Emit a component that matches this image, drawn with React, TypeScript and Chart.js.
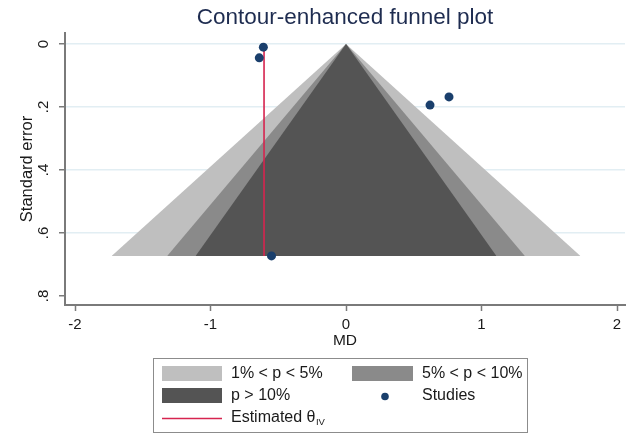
import React, { useEffect, useRef } from "react";
import { Chart, registerables } from "chart.js";

Chart.register(...registerables);

// ---- data ----
const TITLE = "Contour-enhanced funnel plot";
const X_TITLE = "MD";
const Y_TITLE = "Standard error";

const X_TICKS = [-2, -1, 0, 1, 2];
const X_TICK_LABELS = ["-2", "-1", "0", "1", "2"];
const Y_TICKS = [0, 0.2, 0.4, 0.6, 0.8];
const Y_TICK_LABELS = ["0", ".2", ".4", ".6", ".8"];

// studies
const STUDY_MD = [-0.61, -0.64, -0.55, 0.62, 0.76];
const STUDY_SE = [0.01, 0.044, 0.673, 0.194, 0.168];

// estimated theta (IV) and funnel extent
const THETA_IV = -0.605;
const SE_MAX = 0.673;

// contour half-widths at SE_MAX (1%, 5%, 10% boundaries)
const CONTOUR_HALF_WIDTH = [1.73, 1.32, 1.11];
const CONTOUR_LABELS = ["1% < p < 5%", "5% < p < 10%", "p > 10%"];
const STUDIES_LABEL = "Studies";
const THETA_LABEL = "Estimated θ";
const THETA_SUB = "IV";

// ---- styles ----
const CONTOUR_COLORS = ["#bfbfbf", "#8a8a8a", "#545454"];
const RED = "#d6244f";
const NAVY = "#1a3f6c";
const AXIS = "#7a7a7a";
const FONT = "'Liberation Sans', Arial, Helvetica, sans-serif";

const legendPlugin = {
  id: "stataLegend",
  afterDraw(chart: any) {
    const ctx = chart.ctx as CanvasRenderingContext2D;
    ctx.save();
    ctx.strokeStyle = "#8c8c8c";
    ctx.lineWidth = 1;
    ctx.strokeRect(153.5, 358.5, 374, 74);

    ctx.font = `16px ${FONT}`;
    ctx.textBaseline = "middle";
    ctx.textAlign = "left";

    // row 1
    ctx.fillStyle = CONTOUR_COLORS[0];
    ctx.fillRect(162, 366, 60, 15);
    ctx.fillStyle = CONTOUR_COLORS[1];
    ctx.fillRect(352, 366, 61, 15);
    // row 2
    ctx.fillStyle = CONTOUR_COLORS[2];
    ctx.fillRect(162, 388, 60, 15);
    ctx.fillStyle = NAVY;
    ctx.beginPath();
    ctx.arc(385, 396.5, 3.8, 0, Math.PI * 2);
    ctx.fill();
    // row 3
    ctx.strokeStyle = RED;
    ctx.lineWidth = 1.5;
    ctx.beginPath();
    ctx.moveTo(162, 418.5);
    ctx.lineTo(222, 418.5);
    ctx.stroke();

    ctx.fillStyle = "#1a1a1a";
    ctx.fillText(CONTOUR_LABELS[0], 231, 374);
    ctx.fillText(CONTOUR_LABELS[1], 422, 374);
    ctx.fillText(CONTOUR_LABELS[2], 231, 396);
    ctx.fillText(STUDIES_LABEL, 422, 396);
    ctx.fillText(THETA_LABEL, 231, 418);
    const w = ctx.measureText(THETA_LABEL).width;
    ctx.font = `9.5px ${FONT}`;
    ctx.fillText(THETA_SUB, 231 + w + 0.5, 422);
    ctx.restore();
  },
};

export default function App() {
  const canvasRef = useRef<HTMLCanvasElement | null>(null);

  useEffect(() => {
    if (!canvasRef.current) return;

    const funnelSets = CONTOUR_HALF_WIDTH.map((hw, i) => ({
      type: "line" as const,
      label: CONTOUR_LABELS[i],
      data: [
        { x: -hw, y: SE_MAX },
        { x: 0, y: 0 },
        { x: hw, y: SE_MAX },
      ],
      borderColor: "rgba(0,0,0,0)",
      borderWidth: 0,
      backgroundColor: CONTOUR_COLORS[i],
      fill: { value: SE_MAX },
      pointRadius: 0,
      tension: 0,
      order: 4 - i,
    }));

    const chart = new Chart(canvasRef.current, {
      type: "scatter",
      data: {
        datasets: [
          ...funnelSets,
          {
            type: "line",
            label: "Estimated θIV",
            data: [
              { x: THETA_IV, y: 0 },
              { x: THETA_IV, y: SE_MAX },
            ],
            borderColor: RED,
            borderWidth: 1.6,
            pointRadius: 0,
            fill: false,
            order: 1,
          },
          {
            type: "scatter",
            label: STUDIES_LABEL,
            data: STUDY_MD.map((x, i) => ({ x, y: STUDY_SE[i] })),
            backgroundColor: NAVY,
            borderWidth: 0,
            pointRadius: 4.5,
            order: 0,
          },
        ] as any,
      },
      options: {
        animation: false,
        responsive: false,
        maintainAspectRatio: false,
        layout: { padding: { left: 0, right: 5, top: 0, bottom: 0 } },
        plugins: {
          legend: { display: false },
          tooltip: { enabled: false },
          title: {
            display: true,
            text: TITLE,
            fullSize: false,
            color: "#1e2c50",
            font: { family: FONT, size: 22.5, weight: "normal" },
            padding: { top: 4.5, bottom: 1.5 },
          },
        },
        scales: {
          x: {
            type: "linear",
            min: -2.074,
            max: 2.059,
            afterBuildTicks: (s: any) => {
              s.ticks = X_TICKS.map((v) => ({ value: v }));
            },
            afterFit: (s: any) => {
              s.height = 134;
            },
            ticks: {
              callback: (v: any) => {
                const i = X_TICKS.indexOf(Number(v));
                return i >= 0 ? X_TICK_LABELS[i] : "";
              },
              color: "#1a1a1a",
              font: { family: FONT, size: 15 },
              padding: 5,
              maxRotation: 0,
              minRotation: 0,
            },
            grid: {
              drawOnChartArea: false,
              drawTicks: true,
              tickLength: 6,
              tickColor: AXIS,
              tickWidth: 1.5,
            },
            border: { display: true, color: AXIS, width: 2 },
            title: {
              display: true,
              text: X_TITLE,
              color: "#1a1a1a",
              font: { family: FONT, size: 15.5 },
              padding: { top: 0, bottom: 89 },
            },
          },
          y: {
            type: "linear",
            reverse: true,
            min: -0.035,
            max: 0.829,
            afterBuildTicks: (s: any) => {
              s.ticks = Y_TICKS.map((v) => ({ value: v }));
            },
            afterFit: (s: any) => {
              s.width = 65;
            },
            ticks: {
              callback: (v: any) => {
                const i = Y_TICKS.findIndex((t) => Math.abs(t - Number(v)) < 1e-9);
                return i >= 0 ? Y_TICK_LABELS[i] : "";
              },
              color: "#1a1a1a",
              font: { family: FONT, size: 15 },
              minRotation: 90,
              maxRotation: 90,
              crossAlign: "center",
              padding: 9,
            },
            grid: {
              color: (c: any) =>
                c.tick && Math.abs(c.tick.value - 0.8) < 1e-9 ? "rgba(0,0,0,0)" : "#e2eef3",
              lineWidth: 1.5,
              drawTicks: true,
              tickLength: 6,
              tickColor: AXIS,
              tickWidth: 1.5,
            },
            border: { display: true, color: AXIS, width: 2 },
            title: {
              display: true,
              text: Y_TITLE,
              color: "#1a1a1a",
              font: { family: FONT, size: 16.5 },
              padding: { top: 18, bottom: 0 },
            },
          },
        },
      } as any,
      plugins: [legendPlugin],
    });

    return () => chart.destroy();
  }, []);

  return (
    <div style={{ position: "fixed", left: 0, top: 0, width: 630, height: 439, background: "#fff" }}>
      <canvas ref={canvasRef} width={630} height={439} />
    </div>
  );
}
